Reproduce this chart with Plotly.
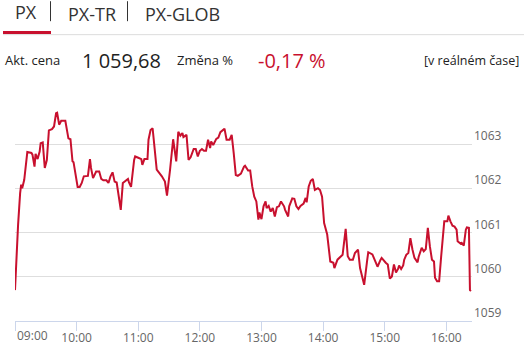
import plotly.graph_objects as go
import pandas as pd

# ---- data ----
times = [
    "09:00", "09:02", "09:03", "09:05", "09:06", "09:07", "09:09", "09:12", "09:16", "09:17",
    "09:19", "09:20", "09:22", "09:24", "09:25", "09:27", "09:29", "09:31", "09:33", "09:36",
    "09:38", "09:40", "09:41", "09:43", "09:45", "09:49", "09:50", "09:52", "09:54", "09:56",
    "09:57", "09:59", "10:01", "10:03", "10:05", "10:07", "10:09", "10:11", "10:13", "10:14",
    "10:16", "10:19", "10:22", "10:24", "10:26", "10:29", "10:31", "10:33", "10:35", "10:37",
    "10:39", "10:41", "10:43", "10:45", "10:47", "10:50", "10:51", "10:53", "10:56", "10:57",
    "11:00", "11:03", "11:04", "11:06", "11:09", "11:10", "11:12", "11:14", "11:18", "11:21",
    "11:23", "11:26", "11:28", "11:31", "11:33", "11:34", "11:37", "11:39", "11:41", "11:43",
    "11:44", "11:47", "11:49", "11:51", "11:54", "11:56", "11:58", "12:00", "12:02", "12:04",
    "12:06", "12:08", "12:10", "12:11", "12:13", "12:16", "12:18", "12:20", "12:24", "12:26",
    "12:29", "12:31", "12:33", "12:35", "12:37", "12:40", "12:43", "12:44", "12:47", "12:49",
    "12:51", "12:53", "12:55", "12:57", "12:58", "13:00", "13:02", "13:04", "13:05", "13:07",
    "13:09", "13:11", "13:13", "13:15", "13:17", "13:19", "13:22", "13:23", "13:26", "13:27",
    "13:30", "13:32", "13:34", "13:36", "13:38", "13:41", "13:43", "13:44", "13:46", "13:48",
    "13:50", "13:52", "13:55", "13:57", "13:59", "14:01", "14:04", "14:05", "14:07", "14:10",
    "14:11", "14:14", "14:17", "14:19", "14:22", "14:24", "14:26", "14:29", "14:31", "14:34",
    "14:36", "14:38", "14:40", "14:43", "14:44", "14:48", "14:50", "14:53", "14:56", "14:57",
    "15:01", "15:03", "15:05", "15:07", "15:09", "15:11", "15:13", "15:14", "15:16", "15:18",
    "15:19", "15:21", "15:23", "15:25", "15:27", "15:29", "15:32", "15:33", "15:36", "15:38",
    "15:40", "15:42", "15:44", "15:46", "15:48", "15:49", "15:51", "15:53", "15:55", "15:57",
    "15:58", "16:01", "16:02", "16:04", "16:06", "16:08", "16:10", "16:11", "16:14", "16:15",
    "16:17", "16:19", "16:20", "16:22", "16:23", "16:24",
]
values = [
    1059.70, 1061.00, 1061.18, 1061.90, 1062.09, 1062.01, 1062.20, 1062.83, 1062.81, 1062.77,
    1062.50, 1062.79, 1062.67, 1062.84, 1063.03, 1063.05, 1062.47, 1062.65, 1063.32, 1063.35,
    1063.41, 1063.71, 1063.72, 1063.45, 1063.54, 1063.54, 1063.37, 1063.14, 1063.12, 1062.62,
    1062.60, 1062.28, 1062.04, 1062.04, 1062.13, 1062.28, 1062.28, 1062.29, 1062.67, 1062.47,
    1062.24, 1062.39, 1062.39, 1062.22, 1062.19, 1062.19, 1062.13, 1062.28, 1062.37, 1062.16,
    1062.14, 1061.82, 1061.52, 1062.13, 1062.16, 1062.22, 1062.14, 1062.04, 1062.65, 1062.73,
    1062.70, 1062.67, 1062.54, 1062.67, 1062.67, 1063.11, 1063.33, 1063.37, 1062.43, 1062.35,
    1062.28, 1062.16, 1061.84, 1062.43, 1062.88, 1063.12, 1062.62, 1063.29, 1063.20, 1063.26,
    1063.17, 1063.22, 1062.65, 1062.71, 1062.90, 1062.90, 1062.73, 1062.86, 1062.90, 1062.86,
    1062.86, 1063.11, 1062.92, 1063.07, 1062.99, 1063.13, 1063.16, 1063.28, 1063.36, 1063.11,
    1063.11, 1063.22, 1062.80, 1062.31, 1062.29, 1062.34, 1062.50, 1062.52, 1062.41, 1062.41,
    1062.05, 1061.82, 1061.71, 1061.30, 1061.46, 1061.31, 1061.60, 1061.71, 1061.56, 1061.61,
    1061.48, 1061.56, 1061.37, 1061.58, 1061.60, 1061.71, 1061.60, 1061.52, 1061.37, 1061.60,
    1061.78, 1061.77, 1061.60, 1061.54, 1061.61, 1061.66, 1061.79, 1061.69, 1062.05, 1062.18,
    1062.22, 1061.97, 1062.01, 1061.97, 1061.82, 1061.22, 1060.96, 1060.73, 1060.35, 1060.32,
    1060.20, 1060.39, 1060.47, 1060.50, 1061.09, 1060.47, 1060.39, 1060.39, 1060.54, 1060.62,
    1060.20, 1059.98, 1059.82, 1060.39, 1060.56, 1060.51, 1060.39, 1060.23, 1060.39, 1060.43,
    1060.32, 1060.28, 1059.96, 1060.01, 1060.28, 1060.10, 1060.18, 1060.26, 1060.18, 1060.26,
    1060.39, 1060.50, 1060.54, 1060.88, 1060.62, 1060.43, 1060.33, 1060.45, 1060.66, 1060.58,
    1060.63, 1061.11, 1060.69, 1060.39, 1060.35, 1059.98, 1059.90, 1059.90, 1060.47, 1061.00,
    1061.26, 1061.26, 1061.39, 1061.26, 1061.16, 1061.14, 1061.07, 1060.81, 1060.75, 1060.77,
    1060.71, 1061.07, 1061.12, 1061.11, 1059.70, 1059.68,
]
hour_ticks = ["09:00", "10:00", "11:00", "12:00", "13:00", "14:00", "15:00", "16:00"]
y_ticks = [1059, 1060, 1061, 1062, 1063, 1064]
y_ticktext = ["1059", "1060", "1061", "1062", "1063", ""]

tabs = ["PX", "PX-TR", "PX-GLOB"]
price_label = "Akt. cena"
price_value = "1 059,68"
change_label = "Změna %"
change_value = "-0,17 %"
realtime_label = "[v reálném čase]"

DAY = "2024-03-15 "
x = pd.to_datetime([DAY + t for t in times])
tickvals = pd.to_datetime([DAY + t for t in hour_ticks])

W, H = 527, 345
ML, MR, MT, MB = 15, 55, 100, 23.5
PW, PH = W - ML - MR, H - MT - MB


def px(xp):
    return (xp - ML) / PW


def py(yp):
    return (H - MB - yp) / PH


RED = "#c8102e"
FONT = "Open Sans"

fig = go.Figure()
fig.add_trace(go.Scatter(
    x=x, y=values, mode="lines",
    line=dict(color=RED, width=2),
    hoverinfo="skip", showlegend=False,
))

fig.update_layout(
    width=W, height=H,
    margin=dict(l=ML, r=MR, t=MT, b=MB, pad=0, autoexpand=False),
    paper_bgcolor="white", plot_bgcolor="white",
    font=dict(family=FONT, color="#666666", size=12),
    xaxis=dict(
        range=[pd.Timestamp(DAY + "09:00"), pd.Timestamp(DAY + "16:25")],
        tickvals=tickvals,
        ticktext=[""] + hour_ticks[1:],
        showgrid=False, zeroline=False,
        showline=True, linecolor="#ccd6eb", linewidth=1,
        ticks="outside", ticklen=9, tickcolor="#ccd6eb", tickwidth=1,
        tickfont=dict(size=12, color="#666666"),
        ticklabelstandoff=-3,
        automargin=False,
    ),
    yaxis=dict(
        range=[1059, 1064.01],
        side="right",
        tickvals=y_ticks, ticktext=y_ticktext,
        showgrid=True, gridcolor="#dedede", gridwidth=1,
        zeroline=False, showline=False, ticks="",
        ticklabelposition="outside top",
        tickfont=dict(size=12, color="#666666"),
        ticklabelstandoff=1,
        automargin=False,
    ),
)

ann = []
# first x tick label, kept inside the plot like the reference
ann.append(dict(x=px(15), y=py(336), xref="paper", yref="paper", text=hour_ticks[0],
                showarrow=False, xanchor="left", yanchor="middle",
                font=dict(size=12, color="#666666", family=FONT)))
# tabs
tab_pos = [(13, 11.7), (66, 14.2), (143, 14.2)]
for label, (tx, ty) in zip(tabs, tab_pos):
    ann.append(dict(x=px(tx), y=py(ty), xref="paper", yref="paper", text=label,
                    showarrow=False, xanchor="left", yanchor="middle",
                    font=dict(size=18, color="#333333", family=FONT)))
# info row
row = [
    (price_label, 3, 13, "#222222"),
    (price_value, 80, 20, "#222222"),
    (change_label, 175, 13, "#222222"),
    (change_value, 256, 20, RED),
]
for label, tx, sz, col in row:
    ann.append(dict(x=px(tx), y=py(60), xref="paper", yref="paper", text=label,
                    showarrow=False, xanchor="left", yanchor="middle",
                    font=dict(size=sz, color=col, family=FONT)))
ann.append(dict(x=px(521), y=py(60), xref="paper", yref="paper", text=realtime_label,
                showarrow=False, xanchor="right", yanchor="middle",
                font=dict(size=12.5, color="#222222", family=FONT)))
fig.update_layout(annotations=ann)

shapes = [
    # gray rule under tabs
    dict(type="line", xref="paper", yref="paper", x0=px(3), x1=px(524), y0=py(34.5), y1=py(34.5),
         line=dict(color="#dddddd", width=1)),
    # active tab underline
    dict(type="line", xref="paper", yref="paper", x0=px(3), x1=px(51), y0=py(32.3), y1=py(32.3),
         line=dict(color=RED, width=3)),
    # tab separators
    dict(type="line", xref="paper", yref="paper", x0=px(50.5), x1=px(50.5), y0=py(1), y1=py(21),
         line=dict(color="#333333", width=1)),
    dict(type="line", xref="paper", yref="paper", x0=px(127.5), x1=px(127.5), y0=py(1), y1=py(21),
         line=dict(color="#333333", width=1)),
]
fig.update_layout(shapes=shapes)

fig.write_html("out.html")
